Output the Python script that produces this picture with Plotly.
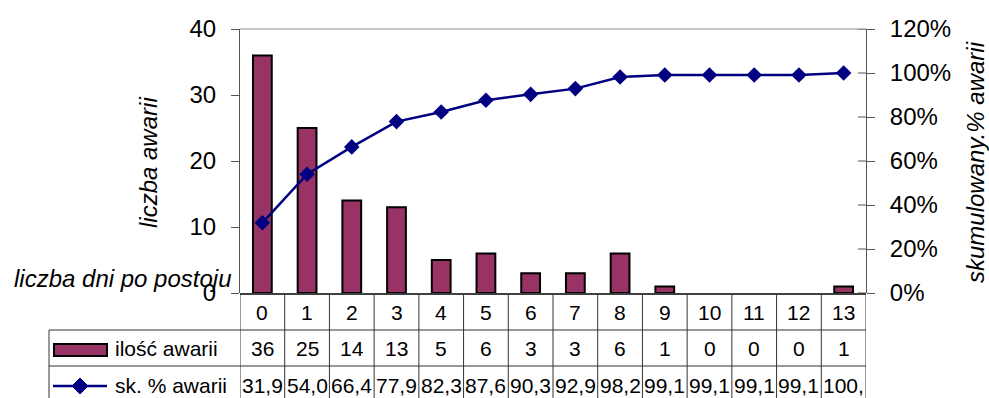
import plotly.graph_objects as go

# --- data ---------------------------------------------------------------
days = list(range(14))                       # liczba dni po postoju
failures = [36, 25, 14, 13, 5, 6, 3, 3, 6, 1, 0, 0, 0, 1]      # ilość awarii
cum_pct = [31.9, 54.0, 66.4, 77.9, 82.3, 87.6, 90.3, 92.9,
           98.2, 99.1, 99.1, 99.1, 99.1, 100.0]                # sk. % awarii
bar_name = "ilość awarii"
line_name = "sk. % awarii"

# --- geometry (pixels) ---------------------------------------------------
W, H = 989, 398
L, R, T, B = 240, 866, 29, 293          # plot area edges
PW, PH = R - L, B - T
ROW1, ROW2, ROW3 = 294, 330, 366        # table row tops
TBL_LEFT = 49
FONT = "Liberation Sans, Arial, sans-serif"
BAR_COLOR = "#993366"
LINE_COLOR = "#000080"
GRID = "#333333"


def px(x):
    return (x - L) / PW


def py(y):
    return (B - y) / PH


fig = go.Figure()
fig.add_trace(go.Bar(
    x=days, y=failures, name=bar_name, width=0.42,
    # empty bars get no outline so nothing shows on the baseline
    marker=dict(color=BAR_COLOR,
                line=dict(color="black", width=[2 if v > 0 else 0 for v in failures])),
    yaxis="y", showlegend=False,
))
fig.add_trace(go.Scatter(
    x=days, y=[v / 100 for v in cum_pct], name=line_name, mode="lines+markers",
    line=dict(color=LINE_COLOR, width=2.5),
    marker=dict(symbol="diamond", size=12, color=LINE_COLOR),
    yaxis="y2", showlegend=False,
))

shapes = []
ann = []

# plot-area top border
shapes.append(dict(type="line", xref="paper", yref="paper", x0=0, x1=1, y0=1, y1=1,
                   line=dict(color="#8c8c8c", width=1)))

# inside half of the crossing ticks on the right axis
for v in [0, 0.2, 0.4, 0.6, 0.8, 1.0, 1.2]:
    shapes.append(dict(type="line", xref="paper", yref="y2", x0=1 - 8 / PW, x1=1,
                       y0=v, y1=v, line=dict(color="#555555", width=1)))

# data table grid
shapes.append(dict(type="line", xref="paper", yref="paper", x0=0, x1=1,
                   y0=py(ROW1), y1=py(ROW1), line=dict(color="black", width=1.5)))
for yy in (ROW2, ROW3):
    shapes.append(dict(type="line", xref="paper", yref="paper", x0=px(TBL_LEFT), x1=1,
                       y0=py(yy), y1=py(yy), line=dict(color=GRID, width=1)))
for k in range(len(days) + 1):
    xb = k - 0.5
    shapes.append(dict(type="line", xref="x", yref="paper", x0=xb, x1=xb,
                       y0=py(ROW1), y1=py(H + 2), line=dict(color=GRID, width=1)))
shapes.append(dict(type="line", xref="paper", yref="paper", x0=px(TBL_LEFT), x1=px(TBL_LEFT),
                   y0=py(ROW2), y1=py(H + 2), line=dict(color=GRID, width=1)))

# legend keys in the table
shapes.append(dict(type="rect", xref="paper", yref="paper",
                   x0=px(54), x1=px(107), y0=py(356), y1=py(344),
                   fillcolor=BAR_COLOR, line=dict(color="black", width=2)))
shapes.append(dict(type="line", xref="paper", yref="paper", x0=px(53), x1=px(107),
                   y0=py(386), y1=py(386), line=dict(color=LINE_COLOR, width=2.5)))
cx, cy, d = 80, 386, 8
path = "M {},{} L {},{} L {},{} L {},{} Z".format(
    px(cx), py(cy - d), px(cx + d), py(cy), px(cx), py(cy + d), px(cx - d), py(cy))
shapes.append(dict(type="path", xref="paper", yref="paper", path=path,
                   fillcolor=LINE_COLOR, line=dict(color=LINE_COLOR, width=1)))

tfont = dict(family=FONT, size=21, color="black")


def cell(text, x, y):
    ann.append(dict(text=text, x=x, y=py(y), xref="x", yref="paper", showarrow=False,
                    xanchor="center", yanchor="middle", font=tfont))


for i, d_ in enumerate(days):
    cell(str(d_), d_, 312)
    cell(str(failures[i]), d_, 348)
    # values formatted with a decimal comma; cells only fit four characters
    cell(f"{cum_pct[i]:.1f}".replace(".", ",")[:4], d_, 385)

ann.append(dict(text=bar_name, x=px(113), y=py(348), xref="paper", yref="paper",
                showarrow=False, xanchor="left", yanchor="middle", font=tfont))
ann.append(dict(text=line_name, x=px(113), y=py(385), xref="paper", yref="paper",
                showarrow=False, xanchor="left", yanchor="middle", font=tfont))

# axis titles
afont = dict(family=FONT, size=24, color="black")
ann.append(dict(text="<i>liczba awarii</i>", x=px(148), y=py(163), xref="paper", yref="paper",
                showarrow=False, textangle=-90, xanchor="center", yanchor="middle", font=afont))
ann.append(dict(text="<i>skumulowany.% awarii</i>", x=px(975), y=py(162), xref="paper",
                yref="paper", showarrow=False, textangle=-90, xanchor="center",
                yanchor="middle", font=afont))
ann.append(dict(text="<i>liczba dni po postoju</i>", x=px(233), y=py(278), xref="paper",
                yref="paper", showarrow=False, xanchor="right", yanchor="middle", font=afont))

fig.update_layout(
    width=W, height=H,
    margin=dict(l=L, r=W - R, t=T, b=H - B, pad=0),
    paper_bgcolor="white", plot_bgcolor="white",
    font=dict(family=FONT, size=24, color="black"),
    xaxis=dict(range=[-0.5, len(days) - 0.5], showticklabels=False, ticks="",
               showgrid=False, zeroline=False, showline=False, fixedrange=True),
    yaxis=dict(range=[0, 40], tickvals=[0, 10, 20, 30, 40], ticks="outside", ticklen=8,
               tickcolor="#555555", showline=True, linecolor="#555555", linewidth=1,
               showgrid=False, zeroline=False, ticklabelstandoff=10,
               tickfont=dict(family=FONT, size=24)),
    yaxis2=dict(range=[0, 1.2], tickvals=[0, 0.2, 0.4, 0.6, 0.8, 1.0, 1.2], tickformat=".0%",
                overlaying="y", side="right", anchor="x", ticks="outside", ticklen=8,
                tickcolor="#555555", showline=True, linecolor="#555555", linewidth=1,
                showgrid=False, zeroline=False, ticklabelstandoff=10,
                tickfont=dict(family=FONT, size=24)),
    bargap=0.5,
    shapes=shapes,
    annotations=ann,
)

fig.write_html("out.html")
